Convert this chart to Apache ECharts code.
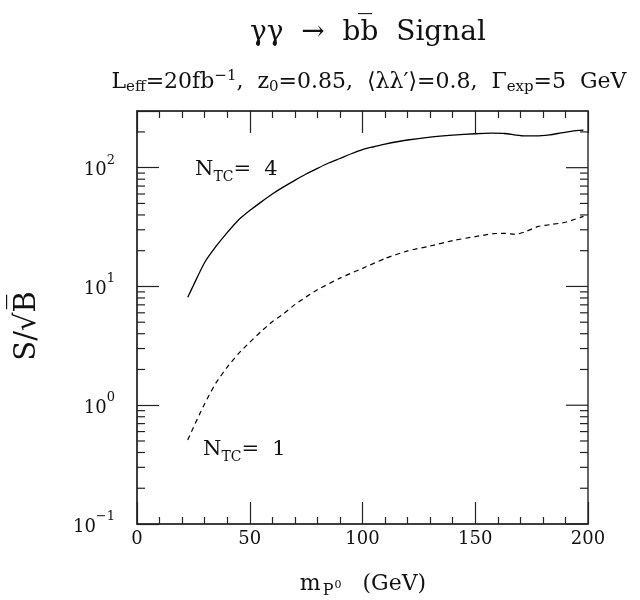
<!DOCTYPE html>
<html><head><meta charset="utf-8">
<script src="https://cdn.jsdelivr.net/npm/echarts/dist/echarts.min.js"></script>
<style>html,body{margin:0;padding:0;background:#fff}#c{width:640px;height:600px}</style>
</head><body><div id="c"></div>
<script>
// N_TC = 4 curve (solid)
const massTC4 = [22.5,25,30,35,40,45,50,55,60,65,70,75,80,85,90,95,100,105,110,120,130,140,150,157,163,168,172,177,183,188,193,198];
const sigTC4  = [8.1,10.2,15.9,21.7,28.4,36.3,43.6,51.3,60,68.9,78.2,88.4,98.6,109.5,119.5,131,142,150,158,171,181,188,193,195,194,188,185,185,189,196,203,207];
// N_TC = 1 curve (dashed)
const massTC1 = [22.5,25,28,30,32,35,40,45,50,55,60,65,70,75,80,90,100,110,120,130,140,150,158,163,168,172,178,184,190,198];
const sigTC1  = [0.51,0.65,0.86,1.03,1.22,1.54,2.09,2.72,3.39,4.17,5.04,5.9,7.03,8.17,9.38,11.75,14.2,17.2,19.9,21.9,24.3,26.3,27.8,28,27.5,28.8,32,33.3,34.7,38.9];
const xMin = 0, xMax = 200, xInterval = 50;
const yMin = 0.1, yMax = 300;
const yMajor = [0.1, 1, 10, 100];
const minorMultipliers = [2,3,4,5,6,7,8,9];

const FONT = 'DejaVu Serif';
const minorVals = [];
yMajor.forEach(d => minorMultipliers.forEach(m => { const v = d*m; if (v < yMax - 1e-9) minorVals.push(v); }));
const majorRight = yMajor.map(d => d * 1.000001);

const chart = echarts.init(document.getElementById('c'));
const axisLine = {show:true, lineStyle:{color:'#333', width:1.5}};
const tickStyle = {color:'#222', width:1.2};

const subRich = {
  m:{fontFamily:FONT, fontSize:22, fontWeight:'normal', lineHeight:30, color:'#111'},
  sub:{fontFamily:FONT, fontSize:15, fontWeight:'normal', verticalAlign:'bottom', color:'#111', padding:[0,0,2,0]},
  sup:{fontFamily:FONT, fontSize:15, fontWeight:'normal', verticalAlign:'top', color:'#111', padding:[2,0,0,0]}
};
const ntcRich = {
  m:{fontFamily:FONT, fontSize:21, lineHeight:30, fill:'#111', color:'#111'},
  sub:{fontFamily:FONT, fontSize:14, verticalAlign:'bottom', fill:'#111', color:'#111', padding:[0,0,1,0]}
};

function xAxisCfg(pos, labels){
  return {
    type:'value', min:xMin, max:xMax, interval:xInterval, position:pos,
    axisLine, splitLine:{show:false},
    axisTick:{show:true, inside:true, length:22, lineStyle:tickStyle},
    minorTick:{show:true, splitNumber:5, length:7, lineStyle:tickStyle},
    axisLabel:{show:labels, fontFamily:FONT, fontSize:18, color:'#111', margin:6}
  };
}

chart.setOption({
  animation:false,
  backgroundColor:'#fff',
  title:[
    {text:'\u03b3\u03b3  \u2192  bb\u0305  Signal', left:363, top:14, textAlign:'center',
     textStyle:{fontFamily:FONT, fontSize:28, fontWeight:'normal', color:'#111'}},
    {text:'{m|L}{sub|eff}{m|=20fb}{sup|\u22121}{m|,  z}{sub|0}{m|=0.85,  \u27e8\u03bb\u03bb\u2032\u27e9=0.8,  \u0393}{sub|exp}{m|=5  GeV}',
     left:364, top:62, textAlign:'center', textStyle:{fontWeight:'normal', rich:subRich}}
  ],
  grid:{left:137, right:52, top:111, bottom:76, containLabel:false,
        show:true, borderColor:'#333', borderWidth:1.5, backgroundColor:'transparent'},
  xAxis:[ xAxisCfg('bottom', true), xAxisCfg('top', false) ],
  yAxis:{
    type:'log', logBase:10, min:yMin, max:yMax, position:'left',
    axisLine, splitLine:{show:false},
    axisTick:{show:true, inside:true, length:22, lineStyle:tickStyle},
    minorTick:{show:false},
    axisLabel:{margin:22,
      formatter: v => { const e = Math.log10(v); const r = Math.round(e);
        if (Math.abs(e-r) > 1e-6) return '';
        return '{b|10}{s|' + (r<0 ? '\u2212' + (-r) : r) + '}'; },
      rich:{
        b:{fontFamily:FONT, fontSize:18, lineHeight:28, color:'#111', padding:[6,0,0,0]},
        s:{fontFamily:FONT, fontSize:13, verticalAlign:'top', color:'#111'}
      }
    }
  },
  graphic:[
    {type:'text', x:27, y:326, rotation:Math.PI/2,
     style:{text:'S/\u221aB\u0305', fontFamily:FONT, fontSize:29, fill:'#111', align:'center', verticalAlign:'middle'}},
    {type:'text', x:363, y:584,
     style:{text:'{m|m}{sub|P}{ss|0}{m|   (GeV)}', align:'center', verticalAlign:'middle', rich:{
       m:{fontFamily:FONT, fontSize:22, lineHeight:30, fill:'#111', color:'#111'},
       sub:{fontFamily:FONT, fontSize:16, verticalAlign:'bottom', fill:'#111', color:'#111', padding:[0,0,0,2]},
       ss:{fontFamily:FONT, fontSize:11, verticalAlign:'bottom', fill:'#111', color:'#111', padding:[0,0,8,1]}}}},
    {type:'text', x:195, y:170,
     style:{text:'{m|N}{sub|TC}{m|=  4}', align:'left', verticalAlign:'middle', rich:ntcRich}},
    {type:'text', x:203, y:450,
     style:{text:'{m|N}{sub|TC}{m|=  1}', align:'left', verticalAlign:'middle', rich:ntcRich}}
  ],
  series:[
    {type:'line', name:'NTC4', data:massTC4.map((m,i)=>[m, sigTC4[i]]), showSymbol:false, smooth:0.2,
     lineStyle:{color:'#000', width:1.3, type:'solid'}, xAxisIndex:0, yAxisIndex:0},
    {type:'line', name:'NTC1', data:massTC1.map((m,i)=>[m, sigTC1[i]]), showSymbol:false, smooth:0.2,
     lineStyle:{color:'#000', width:1.2, type:[5,4]}, xAxisIndex:0, yAxisIndex:0},
    {type:'custom', name:'minorY', silent:true, xAxisIndex:0, yAxisIndex:0, z:5,
     data:minorVals.map(v=>[xMin, v]),
     renderItem:(params, api)=>{
       const v = api.value(1);
       const pl = api.coord([xMin, v]);
       const pr = api.coord([xMax, v]);
       return {type:'group', children:[
         {type:'line', shape:{x1:pl[0], y1:pl[1], x2:pl[0]+8, y2:pl[1]}, style:{stroke:'#222', lineWidth:1.2}},
         {type:'line', shape:{x1:pr[0], y1:pr[1], x2:pr[0]-8, y2:pr[1]}, style:{stroke:'#222', lineWidth:1.2}}
       ]};
     }},
    {type:'custom', name:'majorYRight', silent:true, xAxisIndex:0, yAxisIndex:0, z:5,
     data:majorRight.map(v=>[xMin, v]),
     renderItem:(params, api)=>{
       const v = api.value(1);
       const pr = api.coord([xMax, v]);
       return {type:'group', children:[
         {type:'line', shape:{x1:pr[0], y1:pr[1], x2:pr[0]-22, y2:pr[1]}, style:{stroke:'#222', lineWidth:1.2}}
       ]};
     }}
  ]
});
</script></body></html>
